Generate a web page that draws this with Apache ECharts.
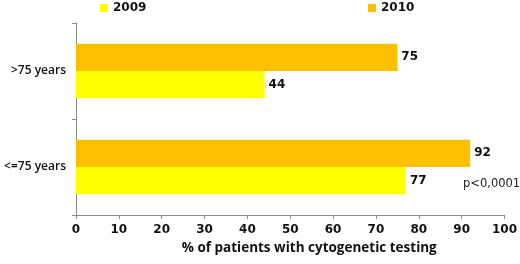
<!DOCTYPE html>
<html>
<head>
<meta charset="utf-8">
<script src="https://cdn.jsdelivr.net/npm/echarts@6/dist/echarts.min.js"></script>
<style>
  html, body { margin: 0; padding: 0; background: #fff; }
  #chart { width: 520px; height: 264px; }
</style>
</head>
<body>
<div id="chart"></div>
<script>
// categories bottom -> top
const categories = ['<=75 years', '>75 years'];
const values2009 = [77, 44];
const values2010 = [92, 75];
const xTicks = [0, 100, 10];

const labelStyle = {
  show: true,
  position: 'right',
  distance: 4,
  color: '#111',
  fontFamily: 'DejaVu Sans',
  fontWeight: 'bold',
  fontSize: 12
};

const legendText = { fontFamily: 'DejaVu Sans', fontWeight: 'bold', fontSize: 12, color: '#111' };

const chart = echarts.init(document.getElementById('chart'));
chart.setOption({
  animation: false,
  grid: { left: 76, right: 10, top: 23, bottom: 49 },
  legend: [
    { data: ['2009'], left: 100, top: 2, padding: 0, itemWidth: 8, itemHeight: 8, itemGap: 4, icon: 'rect', textStyle: legendText },
    { data: ['2010'], left: 368, top: 2, padding: 0, itemWidth: 8, itemHeight: 8, itemGap: 4, icon: 'rect', textStyle: legendText }
  ],
  xAxis: {
    type: 'value',
    min: xTicks[0], max: xTicks[1], interval: xTicks[2],
    name: '% of patients with cytogenetic testing',
    nameLocation: 'middle',
    nameGap: 26,
    nameTextStyle: {
      fontFamily: 'Open Sans', fontWeight: 'bold', fontSize: 13.5, color: '#111',
      padding: [0, 0, 0, 38]
    },
    axisLine: { show: true, lineStyle: { color: '#8a8a8a' } },
    axisTick: { show: true, length: 4, lineStyle: { color: '#8a8a8a' } },
    axisLabel: { fontFamily: 'DejaVu Sans', fontWeight: 'bold', fontSize: 12, color: '#111', margin: 9 },
    splitLine: { show: false }
  },
  yAxis: {
    type: 'category',
    data: categories,
    axisLine: { show: true, lineStyle: { color: '#8a8a8a' } },
    axisTick: { show: true, length: 4, lineStyle: { color: '#8a8a8a' } },
    axisLabel: { fontFamily: 'Open Sans', fontWeight: 600, fontSize: 12, color: '#111', margin: 10 }
  },
  series: [
    {
      name: '2010', type: 'bar', data: values2010,
      itemStyle: { color: '#ffc000' },
      barCategoryGap: '43%', barGap: '0%',
      label: labelStyle
    },
    {
      name: '2009', type: 'bar', data: values2009,
      itemStyle: { color: '#ffff00' },
      barCategoryGap: '43%', barGap: '0%',
      label: labelStyle
    }
  ],
  graphic: [{
    type: 'text', left: 463, top: 178,
    style: { text: 'p<0,0001', fontFamily: 'DejaVu Sans', fontSize: 11.5, fill: '#222' }
  }]
});
</script>
</body>
</html>
